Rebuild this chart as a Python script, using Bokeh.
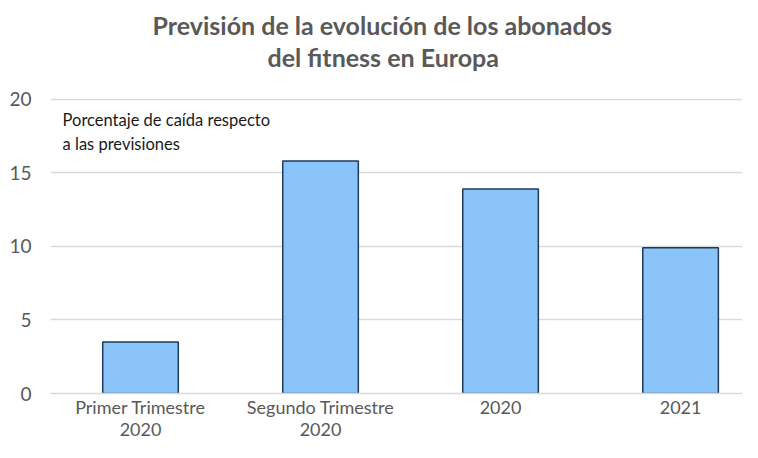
from bokeh.plotting import figure
from bokeh.models import Range1d, FixedTicker, Label, Title
from bokeh.embed import file_html
from bokeh.resources import INLINE

categories = ["Primer Trimestre\n2020", "Segundo Trimestre\n2020", "2020", "2021"]
values = [3.5, 15.8, 13.9, 9.9]
y_ticks = [0, 5, 10, 15, 20]
title_lines = ["Previsión de la evolución de los abonados", "del fitness en Europa"]
note_text = "Porcentaje de caída respecto\na las previsiones"

FONT = "Lato"
GREY = "#595959"

xs = [i + 0.5 for i in range(len(categories))]

p = figure(width=742, height=442, output_backend="svg", toolbar_location=None,
           x_range=Range1d(0, 3.844), y_range=Range1d(0, 20.05),
           min_border_left=50, min_border_right=0, min_border_top=98,
           min_border_bottom=40)

# spacer between frame and title
p.add_layout(Title(text=" ", text_font_size="13px", standoff=10), "above")
title_offsets = [102, 217]
for line, off in reversed(list(zip(title_lines, title_offsets))):
    p.add_layout(Title(text=line, align="left", offset=off, text_font=FONT,
                       text_font_style="bold", text_font_size="25px",
                       text_color=GREY, standoff=0), "above")

p.vbar(x=xs, top=values, width=0.42, bottom=0,
       fill_color="#8BC4F8", line_color="#1F3A5A", line_width=1.5)

p.outline_line_color = None
p.xgrid.grid_line_color = None
p.ygrid.grid_line_color = "#d9d9d9"
p.ygrid.grid_line_width = 1.5
p.yaxis.ticker = FixedTicker(ticks=y_ticks)
p.yaxis.axis_line_color = None
p.yaxis.major_tick_line_color = None
p.yaxis.minor_tick_line_color = None
p.yaxis.major_label_standoff = 13
p.yaxis.major_label_text_font = FONT
p.yaxis.major_label_text_font_size = "19px"
p.yaxis.major_label_text_color = GREY

p.xaxis.ticker = FixedTicker(ticks=xs)
p.xaxis.major_label_overrides = {x: c for x, c in zip(xs, categories)}
p.xaxis.axis_line_color = "#d9d9d9"
p.xaxis.axis_line_width = 1.5
p.xaxis.major_tick_line_color = None
p.xaxis.minor_tick_line_color = None
p.xaxis.major_tick_out = 0
p.xaxis.major_label_standoff = 2
p.xaxis.major_label_text_font = FONT
p.xaxis.major_label_text_font_size = "18px"
p.xaxis.major_label_text_color = GREY
p.xaxis.major_label_text_line_height = 1.0

note = Label(x=0.067, y=19.3, text=note_text,
             text_font=FONT, text_font_size="16.5px", text_color="#1a1a1a",
             text_baseline="top", text_line_height=1.2)
p.add_layout(note)

open("out.html", "w").write(file_html(p, INLINE))
